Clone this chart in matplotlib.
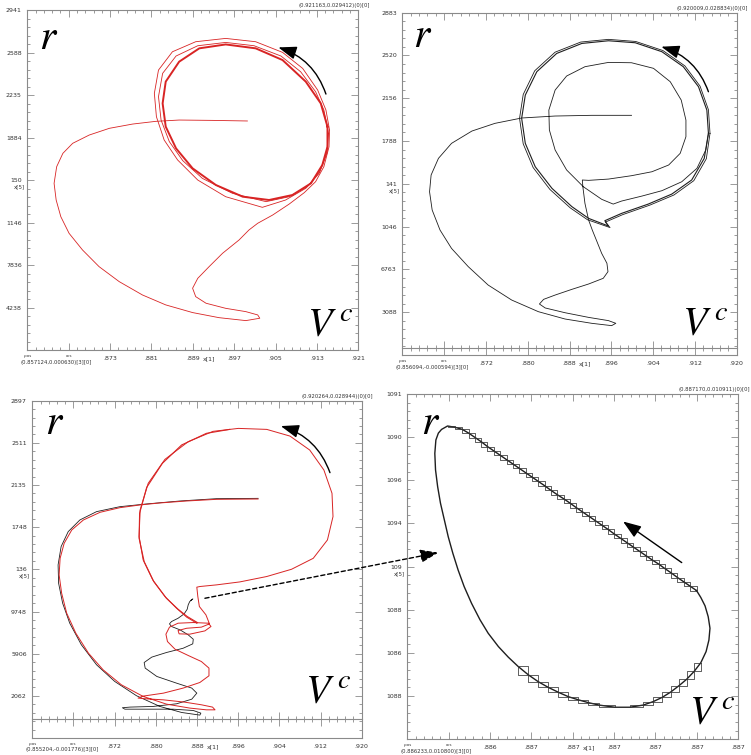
import matplotlib.pyplot as plt
import numpy as np
from matplotlib.ticker import AutoMinorLocator
from matplotlib.patches import ConnectionPatch

plt.rcParams['mathtext.fontset'] = 'stix'
plt.rcParams['font.family'] = 'DejaVu Sans'

# x in 1e-3, y in 1e-4 (panels a-c); panel d: x in 1e-6, y in 1e-7
# ---------- panel a (top left) ----------
a_xlim = (857.124, 921.163)
a_ylim = (6.30, 294.12)
a_xlabels = ['', '', '.873', '.881', '.889', '.897', '.905', '.913', '.921']
a_ylabels = ['2941', '2588', '2235', '1884', '150', '1146', '7836', '4238']
a_path = [(899.7, 200.2), (893.0, 200.7), (886.5, 201.0), (882.0, 199.9), (877.5, 197.6), (873.0, 194.0),
          (869.1, 188.3), (865.9, 181.3), (864.0, 172.8), (862.8, 161.5), (862.3, 147.4), (862.7, 133.3),
          (863.6, 119.2), (865.2, 105.1), (867.8, 91.0), (871.0, 76.9), (874.9, 64.2), (879.4, 52.9),
          (883.9, 44.5), (889.1, 38.0), (894.2, 33.7), (899.4, 31.2), (902.1, 33.2), (901.7, 36.0),
          (899.4, 38.8), (895.5, 41.6), (891.7, 45.9), (889.7, 51.5), (889.1, 58.6), (890.1, 67.0),
          (892.3, 76.9), (894.9, 88.2), (898.1, 99.5), (900.0, 107.9), (901.7, 113.6), (904.6, 120.6),
          (907.8, 129.9), (910.7, 139.5), (912.9, 148.8), (914.5, 161.5), (915.5, 178.4), (915.6, 192.5)]
a_loop1 = [(915.6, 192.5), (914.9, 209.5), (913.3, 226.4), (910.4, 244.7), (906.5, 258.3), (901.3, 267.3),
           (895.5, 270.1), (889.7, 267.3), (885.2, 258.8), (882.5, 243.3), (881.7, 223.6), (882.1, 203.8),
           (883.6, 184.1), (886.2, 167.2), (890.1, 150.2), (895.5, 136.1), (902.6, 127.1), (907.1, 133.3),
           (911.0, 143.2), (913.6, 155.9), (915.1, 172.8), (915.4, 189.7)]
a_loop2 = [(915.4, 189.7), (914.5, 209.5), (912.9, 225.0), (910.0, 241.9), (906.2, 255.2), (901.0, 263.9),
           (895.5, 266.7), (890.1, 263.9), (885.9, 255.2), (883.3, 240.5), (882.5, 220.8), (883.0, 201.0),
           (884.6, 182.7), (887.2, 166.6), (891.0, 151.6), (896.8, 139.0), (903.3, 131.9), (907.8, 136.1),
           (911.3, 144.6), (913.7, 157.3), (915.1, 174.2), (915.3, 189.7)]
a_cycle = [(915.2, 195.4), (913.9, 215.1), (911.0, 233.5), (906.5, 251.8), (901.3, 261.7), (895.5, 265.0),
           (890.4, 261.7), (886.5, 250.4), (883.9, 233.5), (883.3, 215.1), (883.9, 195.4), (885.9, 177.0),
           (889.1, 160.1), (893.6, 146.0), (898.8, 136.1), (903.9, 133.3), (908.4, 137.5), (912.0, 147.4),
           (914.2, 162.9), (915.2, 178.4), (915.2, 195.4)]
a_arrow = [(914.9, 223.0), (905.7, 262.5)]

# ---------- panel b (top right) ----------
b_xlim = (856.094, 920.009)
b_ylim = (-5.94, 288.34)
b_xlabels = ['', '', '.872', '.880', '.888', '.896', '.904', '.912', '.920']
b_ylabels = ['2883', '2520', '2156', '1788', '141', '1046', '6763', '3088']
b_path = [(899.9, 200.1), (892.3, 200.1), (885.3, 199.5), (878.9, 197.8), (873.8, 193.2), (869.4, 186.6),
          (865.5, 176.0), (863.0, 163.1), (861.6, 148.8), (861.3, 134.4), (861.8, 118.7), (863.3, 101.5),
          (865.5, 85.7), (868.7, 70.0), (872.5, 54.2), (877.0, 41.3), (882.1, 31.3), (887.2, 25.0),
          (892.3, 21.3), (896.1, 19.3), (896.9, 21.3), (895.5, 23.6), (891.7, 26.4), (887.2, 30.4),
          (883.4, 34.5), (882.3, 37.9), (883.1, 41.9), (885.3, 45.6), (888.5, 50.5), (891.7, 55.1),
          (894.5, 60.0), (895.4, 65.7), (895.2, 72.9), (894.2, 81.4), (893.3, 91.5), (892.4, 101.5),
          (891.7, 110.1), (891.0, 124.4), (890.6, 138.7), (890.5, 144.5), (891.7, 144.2), (895.5, 145.3),
          (899.9, 148.2), (903.8, 151.6), (907.0, 157.4), (909.2, 167.4), (910.3, 181.7), (910.3, 196.0),
          (909.4, 213.2), (907.3, 229.0), (904.1, 240.5), (899.9, 245.3), (895.5, 245.6), (891.0, 241.9),
          (887.5, 233.9), (885.3, 221.8), (884.1, 204.6), (884.2, 187.5), (885.3, 170.3), (887.5, 153.1),
          (890.7, 138.7), (894.2, 127.9), (896.4, 123.8), (898.0, 126.4), (901.9, 130.7), (905.7, 135.3),
          (909.5, 143.0), (912.4, 154.5), (914.1, 170.3), (914.6, 184.6)]
b_cycle = [(914.6, 184.6), (914.3, 204.6), (912.7, 224.7), (909.8, 241.9), (905.7, 254.8), (900.6, 262.5),
           (895.5, 264.2), (890.4, 261.9), (885.6, 253.3), (881.8, 237.6), (879.6, 217.5), (878.9, 197.5),
           (879.6, 176.0), (881.5, 155.9), (884.7, 137.3), (888.5, 121.6), (891.7, 111.5), (895.5, 104.9),
           (894.8, 109.5), (898.0, 115.8), (903.1, 123.8), (907.6, 132.4), (911.4, 144.5), (913.8, 163.1),
           (914.6, 184.6)]
b_loop2 = [(914.9, 184.6), (914.6, 204.9), (913.0, 225.2), (910.1, 242.6), (905.9, 255.8), (900.7, 263.6),
           (895.5, 265.4), (890.2, 263.1), (885.3, 254.4), (881.4, 238.4), (879.2, 218.0), (878.5, 197.5),
           (879.2, 175.6), (881.1, 155.2), (884.3, 136.4), (888.2, 120.5), (891.5, 110.3), (895.8, 103.6),
           (894.9, 108.3), (898.2, 114.7), (903.4, 122.9), (908.0, 131.6), (911.8, 143.9), (914.2, 162.8),
           (914.9, 184.6)]
b_arrow = [(914.6, 220.4), (905.6, 259.1)]

# ---------- panel c (bottom left) ----------
c_xlim = (855.204, 920.264)
c_ylim = (-17.76, 289.44)
c_xlabels = ['', '', '.872', '.880', '.888', '.896', '.904', '.912', '.920']
c_ylabels = ['2897', '2511', '2135', '1748', '136', '9748', '5906', '2062']
c_black = [(899.8, 200.5), (891.6, 200.2), (884.4, 198.1), (877.8, 195.4), (872.5, 192.9), (867.9, 188.4),
           (864.6, 180.8), (862.3, 170.2), (860.9, 156.6), (860.3, 139.9), (860.4, 123.2), (861.2, 105.0),
           (862.6, 86.8), (864.9, 67.1), (867.9, 48.9), (871.5, 33.7), (875.8, 20.7), (880.4, 11.0),
           (884.7, 5.5), (888.3, 3.1), (888.5, 4.9), (887.0, 7.3), (883.0, 8.5), (877.8, 8.5), (873.5, 8.5),
           (873.0, 9.8), (874.5, 10.4), (879.1, 11.0), (883.7, 13.4), (886.7, 17.6), (887.7, 23.1),
           (886.7, 27.7), (883.7, 32.2), (879.8, 38.3), (877.5, 45.9), (877.3, 51.0), (878.8, 55.9),
           (881.7, 60.1), (885.0, 64.0), (886.9, 68.0), (887.0, 72.2), (886.0, 76.2), (884.4, 80.7),
           (882.7, 83.8), (882.3, 86.2), (882.7, 88.3), (884.0, 91.3), (885.2, 95.3), (885.8, 99.5),
           (886.0, 103.5), (886.3, 106.5), (886.8, 108.6), (886.5, 107.4), (886.9, 108.9)]
c_red = [(899.8, 199.9), (891.6, 199.6), (885.7, 198.1), (880.4, 196.3), (876.5, 194.5), (872.5, 192.0),
         (868.6, 187.8), (865.3, 180.8), (863.0, 171.7), (861.5, 159.6), (860.7, 145.9), (860.5, 130.8),
         (861.0, 114.1), (862.0, 95.9), (863.8, 77.7), (866.3, 59.5), (869.2, 44.3), (872.8, 30.7),
         (877.1, 20.1), (881.7, 13.1), (886.3, 9.5), (889.6, 7.9), (891.3, 7.9), (890.8, 10.4),
         (888.6, 12.5), (885.3, 14.9), (881.1, 17.0), (877.8, 17.9), (876.1, 18.6), (877.1, 20.4),
         (881.1, 23.1), (885.0, 27.7), (888.3, 32.8), (890.1, 38.9), (890.1, 45.9), (888.6, 51.9),
         (886.0, 57.4), (883.4, 63.1), (881.9, 70.1), (881.6, 76.8), (882.3, 83.2), (884.0, 86.8),
         (887.0, 87.4), (890.0, 86.8), (890.5, 83.8), (889.3, 79.8), (886.3, 76.8), (884.2, 77.1),
         (884.0, 80.1), (885.7, 82.2), (888.6, 83.2), (890.2, 86.2), (889.5, 94.4), (888.2, 102.0),
         (887.9, 111.1), (887.7, 119.6), (888.3, 120.2), (891.6, 121.7), (896.2, 124.4), (901.5, 129.3),
         (906.4, 135.9), (910.7, 145.9), (913.5, 162.6), (914.6, 183.9), (914.4, 205.1), (912.8, 226.3),
         (910.0, 244.5), (906.1, 257.2), (901.5, 263.3), (895.9, 264.2), (890.9, 261.5), (886.0, 252.1),
         (881.4, 236.0), (878.1, 214.2), (876.5, 189.9), (876.3, 165.7), (877.1, 144.4), (879.0, 126.2),
         (881.4, 111.1), (883.7, 100.4), (885.7, 92.3), (887.7, 86.8)]
c_red_loop2 = [(894.2, 263.3), (889.6, 259.7), (884.7, 249.1), (880.9, 232.4), (877.8, 210.5), (876.4, 186.9),
               (876.3, 164.1), (877.3, 142.9), (879.2, 124.7), (881.7, 109.5), (884.0, 99.5), (885.8, 92.9),
               (887.8, 87.4)]
c_arrow = [(914.0, 223.9), (904.3, 266.3)]
c_link = (889.3, 109.5)

# ---------- panel d (bottom right, zoom of the small cycle) ----------
d_xlim = (886233, 887170)
d_ylim = (108000, 109110)
d_xlabels = ['', '', '.886', '.887', '.887', '.887', '.887', '.887', '.887']
d_ylabels = ['1091', '1090', '1096', '1094', '109', '1088', '1086', '1088']
d_cycle = [(887052, 108478), (887034, 108492), (887016, 108506), (886998, 108520), (886980, 108535),
           (886962, 108549), (886945, 108563), (886927, 108576), (886909, 108590), (886891, 108604),
           (886873, 108618), (886855, 108632), (886837, 108646), (886819, 108660), (886801, 108675),
           (886783, 108689), (886765, 108703), (886747, 108717), (886729, 108731), (886711, 108745),
           (886694, 108759), (886676, 108773), (886658, 108786), (886640, 108800), (886622, 108815),
           (886604, 108829), (886586, 108843), (886568, 108857), (886550, 108871), (886532, 108885),
           (886514, 108899), (886496, 108913), (886478, 108927), (886460, 108941), (886443, 108956),
           (886425, 108970), (886407, 108984), (886389, 108996), (886368, 109003), (886347, 109007),
           (886330, 108996), (886321, 108984), (886314, 108962), (886311, 108919), (886313, 108866),
           (886319, 108812), (886327, 108759), (886338, 108705), (886349, 108651), (886362, 108598),
           (886377, 108544), (886394, 108491), (886415, 108437), (886439, 108384), (886462, 108341),
           (886491, 108298), (886519, 108264), (886547, 108234), (886576, 108207), (886604, 108185),
           (886632, 108167), (886661, 108151), (886689, 108137), (886717, 108127), (886745, 108118),
           (886776, 108110), (886821, 108103), (886863, 108103), (886901, 108110), (886929, 108121),
           (886955, 108135), (886979, 108152), (887002, 108172), (887024, 108193), (887045, 108218),
           (887064, 108246), (887079, 108282), (887087, 108319), (887090, 108357), (887085, 108394),
           (887076, 108429), (887064, 108456), (887052, 108478)]
# stretches of the cycle where the plotter left staircase boxes
d_boxed = [(0, 40), (57, 76)]
d_arrow = [(887010, 108568), (886844, 108700)]
d_link = (886321, 108600)

GRAY = '#8a8a8a'
RED = '#d82424'
INK = '#1e1e1e'
HEAD = '-|>,head_length=1.1,head_width=0.4'


def setup(ax, xlim, ylim, xlabels, ylabels, top_note, bottom_note, zero_axis=False):
    ax.set_xlim(xlim)
    ax.set_ylim(ylim)
    xt = np.linspace(xlim[0], xlim[1], 9)
    yt = np.linspace(ylim[1], ylim[0], 9)[:-1]
    ax.set_xticks(xt)
    ax.set_xticklabels(xlabels)
    ax.set_yticks(yt)
    ax.set_yticklabels(ylabels)
    ax.xaxis.set_minor_locator(AutoMinorLocator(5))
    ax.yaxis.set_minor_locator(AutoMinorLocator(5))
    ax.tick_params(which='both', direction='in', top=True, right=True, colors=GRAY,
                   labelcolor='#333333', labelsize=4.5, width=0.6, pad=4)
    ax.tick_params(which='major', length=5)
    ax.tick_params(which='minor', length=2.5)
    for s in ax.spines.values():
        s.set_color(GRAY)
        s.set_linewidth(0.8)
    if zero_axis:
        ax.tick_params(axis='x', which='both', bottom=False)
        frac = (0 - ylim[0]) / (ylim[1] - ylim[0])
        sec = ax.secondary_xaxis(frac)
        sec.set_xticks(xt)
        sec.xaxis.set_minor_locator(AutoMinorLocator(5))
        sec.tick_params(which='both', direction='inout', labelbottom=False, colors=GRAY, width=0.6)
        sec.tick_params(which='major', length=10)
        sec.tick_params(which='minor', length=5)
        sec.spines['bottom'].set_color(GRAY)
        sec.spines['bottom'].set_linewidth(0.8)
    ax.text(1.035, 1.006, top_note, transform=ax.transAxes, ha='right', va='bottom',
            fontsize=3.8, color='#333333')
    ax.text(-0.02, -0.028, bottom_note, transform=ax.transAxes, ha='left', va='top',
            fontsize=3.8, color='#333333')
    ax.text(-0.01, -0.012, '.pos', transform=ax.transAxes, ha='left', va='top', fontsize=2.8, color='#333333')
    ax.annotate('ecs', xy=(xt[1], 0), xycoords=('data', 'axes fraction'), xytext=(0, -3),
                textcoords='offset points', ha='center', va='top', fontsize=2.8, color='#333333')
    ax.annotate('x[1]', xy=(xt[4], 0), xycoords=('data', 'axes fraction'), xytext=(7, -4.2),
                textcoords='offset points', ha='left', va='top', fontsize=4.5, color='#333333')
    ax.annotate('x[5]', xy=(0, yt[4]), xycoords=('axes fraction', 'data'), xytext=(-2, -5),
                textcoords='offset points', ha='right', va='center', fontsize=4, color='#333333')


def labels(ax, rpos, vpos):
    ax.text(rpos[0], rpos[1], '$r$', transform=ax.transAxes, fontsize=30, ha='center', va='center')
    ax.text(vpos[0], vpos[1], r'$V^{\,c}$', transform=ax.transAxes, fontsize=29, ha='center', va='center')


def arrow(ax, pts, rad):
    ax.annotate('', xy=pts[1], xytext=pts[0],
                arrowprops=dict(arrowstyle=HEAD, color='black', lw=1.0, shrinkA=0, shrinkB=0,
                                connectionstyle=f'arc3,rad={rad}'))


def line(ax, pts, **kw):
    p = np.array(pts, dtype=float)
    ax.plot(p[:, 0], p[:, 1], **kw)


fig = plt.figure(figsize=(7.51, 7.55), dpi=100)
ax1 = fig.add_axes([0.0364, 0.5364, 0.4407, 0.4503])
ax2 = fig.add_axes([0.5357, 0.5298, 0.4453, 0.4534])
ax3 = fig.add_axes([0.0430, 0.0225, 0.4386, 0.4468])
ax4 = fig.add_axes([0.5423, 0.0208, 0.4407, 0.4574])

# panel a
setup(ax1, a_xlim, a_ylim, a_xlabels, a_ylabels, '(0.921163,0.029412)(0)[0]', '(0.857124,0.000630)[3][0]')
line(ax1, a_path, color=RED, lw=0.6)
line(ax1, a_loop1, color=RED, lw=0.6)
line(ax1, a_loop2, color=RED, lw=0.6)
line(ax1, a_cycle, color=RED, lw=1.4)
arrow(ax1, a_arrow, 0.25)
labels(ax1, (0.063, 0.92), (0.915, 0.074))

# panel b
setup(ax2, b_xlim, b_ylim, b_xlabels, b_ylabels, '(0.920009,0.028834)(0)[0]', '(0.856094,-0.000594)[3][0]',
      zero_axis=True)
line(ax2, b_path, color=INK, lw=0.6)
line(ax2, b_cycle, color=INK, lw=0.8)
line(ax2, b_loop2, color=INK, lw=0.6)
arrow(ax2, b_arrow, 0.25)
labels(ax2, (0.062, 0.935), (0.905, 0.093))

# panel c
setup(ax3, c_xlim, c_ylim, c_xlabels, c_ylabels, '(0.920264,0.028944)(0)[0]', '(0.855204,-0.001776)[3][0]',
      zero_axis=True)
line(ax3, c_black, color=INK, lw=0.6)
line(ax3, c_red, color=RED, lw=0.7)
line(ax3, c_red_loop2, color=RED, lw=0.8)
arrow(ax3, c_arrow, 0.25)
labels(ax3, (0.069, 0.937), (0.898, 0.136))

# panel d
setup(ax4, d_xlim, d_ylim, d_xlabels, d_ylabels, '(0.887170,0.010911)(0)[0]', '(0.886233,0.010800)[3][0]')
line(ax4, d_cycle, color=INK, lw=1.0)
for i0, i1 in d_boxed:
    line(ax4, d_cycle[i0:i1], color='#333333', lw=0.55, drawstyle='steps-pre')
    line(ax4, d_cycle[i0:i1], color='#333333', lw=0.55, drawstyle='steps-post')
arrow(ax4, d_arrow, 0.0)
labels(ax4, (0.069, 0.919), (0.921, 0.077))

# dashed link from the small cycle in panel c to its zoom in panel d
con = ConnectionPatch(xyA=c_link, coordsA=ax3.transData, xyB=d_link, coordsB=ax4.transData,
                      arrowstyle=HEAD, linestyle=(0, (3, 2)), lw=1.0, color='black', mutation_scale=10)
fig.add_artist(con)

fig.savefig('out.png', dpi=100)
